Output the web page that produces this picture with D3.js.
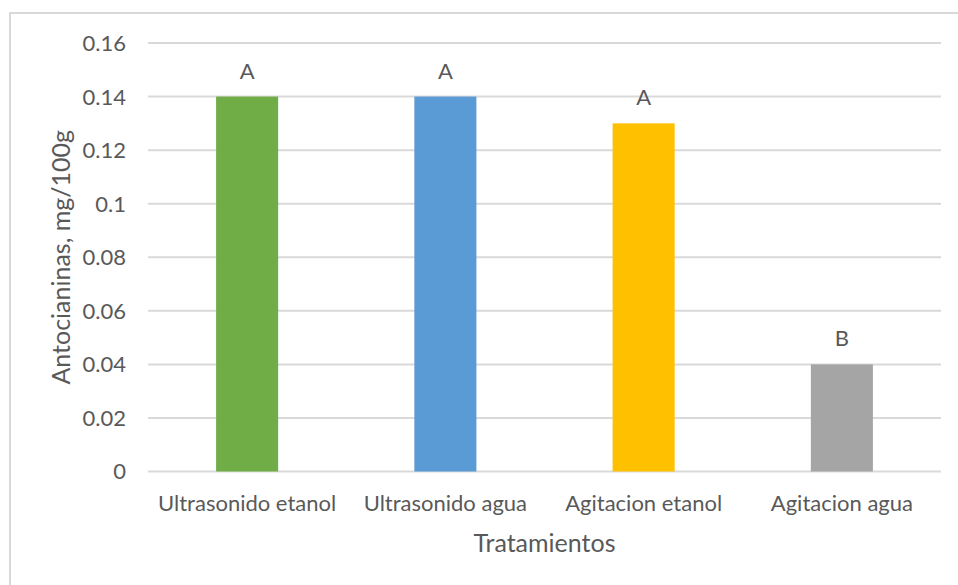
<!DOCTYPE html>
<html>
<head>
<meta charset="utf-8">
<script src="https://cdn.jsdelivr.net/npm/d3@7"></script>
<style>
  html, body { margin: 0; padding: 0; background: #fff; }
  svg { display: block; }
  text { font-family: Lato, "Open Sans", sans-serif; fill: #595959; }
</style>
</head>
<body>
<svg id="chart" width="958" height="585"></svg>
<script>
// Antocianinas por tratamiento
const categories = ["Ultrasonido etanol", "Ultrasonido agua", "Agitacion etanol", "Agitacion agua"];
const values = [0.14, 0.14, 0.13, 0.04];
const letters = ["A", "A", "A", "B"];
const colors = ["#70AD47", "#5B9BD5", "#FFC000", "#A5A5A5"];
const yTicks = [0, 0.02, 0.04, 0.06, 0.08, 0.1, 0.12, 0.14, 0.16];
const yTitle = "Antocianinas, mg/100g";
const xTitle = "Tratamientos";

const svg = d3.select("#chart");

// outer chart frame
svg.append("rect")
  .attr("x", 10).attr("y", 13)
  .attr("width", 960).attr("height", 590)
  .attr("fill", "#fff")
  .attr("stroke", "#D9D9D9").attr("stroke-width", 2);

const plot = { left: 148, right: 941, top: 43, bottom: 471.5 };

const x = d3.scaleBand()
  .domain(categories)
  .range([plot.left, plot.right])
  .paddingInner(0.687)
  .paddingOuter(0.687 / 2);

const y = d3.scaleLinear()
  .domain([0, 0.16])
  .range([plot.bottom, plot.top]);

// horizontal gridlines
svg.append("g")
  .selectAll("line")
  .data(yTicks)
  .join("line")
  .attr("x1", plot.left).attr("x2", plot.right)
  .attr("y1", d => y(d)).attr("y2", d => y(d))
  .attr("stroke", "#D9D9D9").attr("stroke-width", 2);

// y axis labels
const yAxis = d3.axisLeft(y)
  .tickValues(yTicks)
  .tickFormat(d => d3.format("")(+d.toFixed(2)))
  .tickSize(0)
  .tickPadding(22);
const yg = svg.append("g").attr("transform", `translate(${plot.left},0)`).call(yAxis);
yg.select(".domain").remove();
yg.selectAll("text").style("font-size", "22px").attr("fill", "#595959").attr("dy", "0.34em");

// bars
svg.append("g")
  .selectAll("rect")
  .data(values)
  .join("rect")
  .attr("x", (d, i) => x(categories[i]))
  .attr("width", x.bandwidth())
  .attr("y", d => y(d))
  .attr("height", d => y(0) - y(d))
  .attr("fill", (d, i) => colors[i]);

// significance letters above bars
svg.append("g")
  .selectAll("text")
  .data(values)
  .join("text")
  .attr("x", (d, i) => x(categories[i]) + x.bandwidth() / 2)
  .attr("y", d => y(d) - 18)
  .attr("text-anchor", "middle")
  .style("font-size", "22px")
  .text((d, i) => letters[i]);

// x axis labels
const xAxis = d3.axisBottom(x).tickSize(0).tickPadding(24);
const xg = svg.append("g").attr("transform", `translate(0,${plot.bottom})`).call(xAxis);
xg.select(".domain").remove();
xg.selectAll("text").style("font-size", "22px").attr("fill", "#595959");

// axis titles
svg.append("text")
  .attr("transform", `translate(70,${(plot.top + plot.bottom) / 2}) rotate(-90)`)
  .attr("text-anchor", "middle")
  .style("font-size", "25px")
  .text(yTitle);

svg.append("text")
  .attr("x", (plot.left + plot.right) / 2)
  .attr("y", 552)
  .attr("text-anchor", "middle")
  .style("font-size", "25px")
  .text(xTitle);
</script>
</body>
</html>
